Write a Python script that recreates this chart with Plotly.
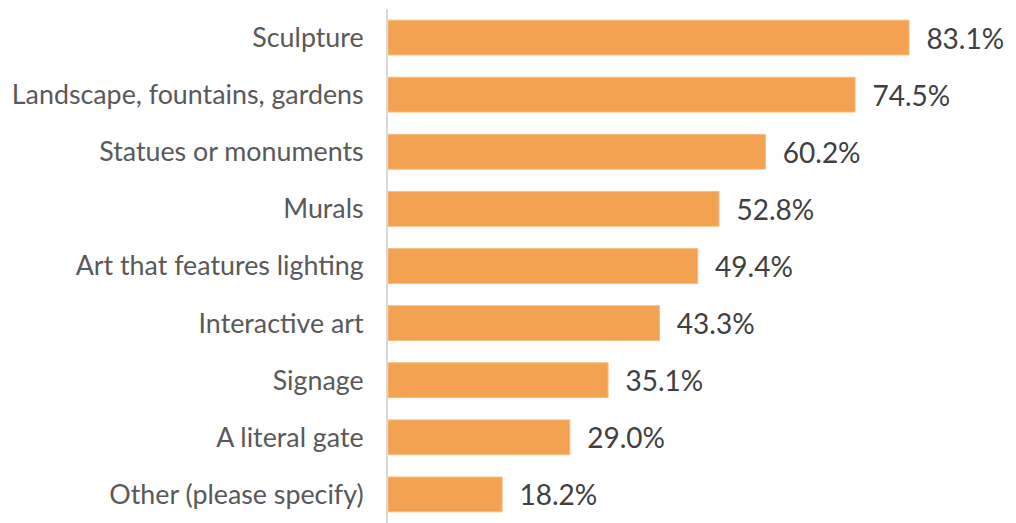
import plotly.graph_objects as go

categories = ["Sculpture", "Landscape, fountains, gardens", "Statues or monuments", "Murals",
              "Art that features lighting", "Interactive art", "Signage", "A literal gate",
              "Other (please specify)"]
values = [83.1, 74.5, 60.2, 52.8, 49.4, 43.3, 35.1, 29.0, 18.2]

fig = go.Figure(go.Bar(
    x=values, y=categories, orientation="h",
    marker=dict(color="#F3A252", line=dict(color="#F7BE85", width=1)),
    texttemplate="\u00a0\u00a0%{x:.1f}%", textposition="outside",
    textfont=dict(size=28, color="#404040", family="Lato"),
    cliponaxis=False,
))
fig.update_layout(
    width=1008, height=515,
    margin=dict(l=380, r=1, t=1, b=0),
    paper_bgcolor="white", plot_bgcolor="white",
    bargap=0.39, showlegend=False,
    font=dict(family="Lato", size=26.8, color="#595959"),
)
fig.update_xaxes(range=[0, 100], showgrid=False, showticklabels=False, zeroline=False, showline=False)
fig.update_yaxes(autorange=False, range=[8.5, -0.5], showline=True, linecolor="#D9D9D9", linewidth=2,
                 ticks="", ticklabelstandoff=17, showgrid=False,
                 tickfont=dict(size=26.8, color="#595959", family="Lato"))
fig.write_html("out.html")
